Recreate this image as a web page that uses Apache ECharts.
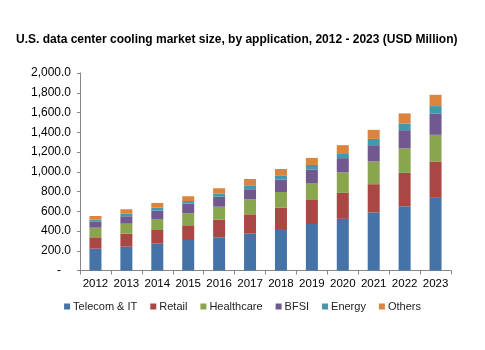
<!DOCTYPE html>
<html>
<head>
<meta charset="utf-8">
<script src="https://cdn.jsdelivr.net/npm/echarts@6/dist/echarts.min.js"></script>
<style>
  html, body { margin: 0; padding: 0; background: #fff; }
  #chart { width: 485px; height: 350px; }
</style>
</head>
<body>
<div id="chart"></div>
<script>
var years = ['2012','2013','2014','2015','2016','2017','2018','2019','2020','2021','2022','2023'];
var telecom    = [221, 241, 272, 309, 336, 373, 420, 471, 523, 588, 651, 736];
var retail     = [115, 132, 138, 149, 179, 196, 216, 243, 263, 286, 338, 368];
var healthcare = [98, 101, 112, 122, 131, 152, 159, 172, 207, 230, 247, 270];
var bfsi       = [60, 75, 84, 97, 102, 102, 125, 135, 145, 165, 185, 213];
var energy     = [21, 26, 30, 27, 30, 40, 44, 48, 50, 64, 68, 78];
var others     = [37, 45, 48, 48, 55, 64, 64, 71, 81, 91, 102, 114];

var names = ['Telecom & IT', 'Retail', 'Healthcare', 'BFSI', 'Energy', 'Others'];
var colors = ['#4572A7', '#AA4643', '#89A54E', '#71588F', '#4198AF', '#DB843D'];
var seriesData = [telecom, retail, healthcare, bfsi, energy, others];

var chart = echarts.init(document.getElementById('chart'));

var series = [];
for (var i = 0; i < names.length; i++) {
  series.push({
    name: names[i],
    type: 'bar',
    stack: 'total',
    barWidth: 12,
    itemStyle: { color: colors[i] },
    data: seriesData[i]
  });
}

var option = {
  animation: false,
  textStyle: { fontFamily: 'Liberation Sans, Arial, sans-serif' },
  title: {
    text: 'U.S. data center cooling market size, by application, 2012 - 2023 (USD Million)',
    left: 11,
    top: 29,
    textStyle: { fontSize: 12, fontWeight: 'bold', color: '#000' }
  },
  legend: {
    data: names,
    top: 296,
    left: 'center',
    itemWidth: 6,
    itemHeight: 6,
    itemGap: 13,
    icon: 'rect',
    textStyle: { fontSize: 11, color: '#222', padding: [0, 0, 0, -2] }
  },
  grid: { left: 80, right: 34, top: 73, bottom: 79.5 },
  xAxis: {
    type: 'category',
    data: years,
    axisLine: { lineStyle: { color: '#868686' } },
    axisTick: { show: true, length: 4, lineStyle: { color: '#868686' } },
    axisLabel: { fontSize: 11.5, color: '#000', margin: 7, interval: 0 }
  },
  yAxis: {
    type: 'value',
    min: 0,
    max: 2000,
    interval: 200,
    splitLine: { show: false },
    axisLine: { show: true, lineStyle: { color: '#868686' } },
    axisTick: { show: true, length: 3, lineStyle: { color: '#868686' } },
    axisLabel: {
      fontSize: 12,
      color: '#000',
      margin: 9,
      formatter: function (v) {
        if (v === 0) return '-   ';
        return v.toLocaleString('en-US', { minimumFractionDigits: 1, maximumFractionDigits: 1 });
      }
    }
  },
  series: series
};

chart.setOption(option);
</script>
</body>
</html>
